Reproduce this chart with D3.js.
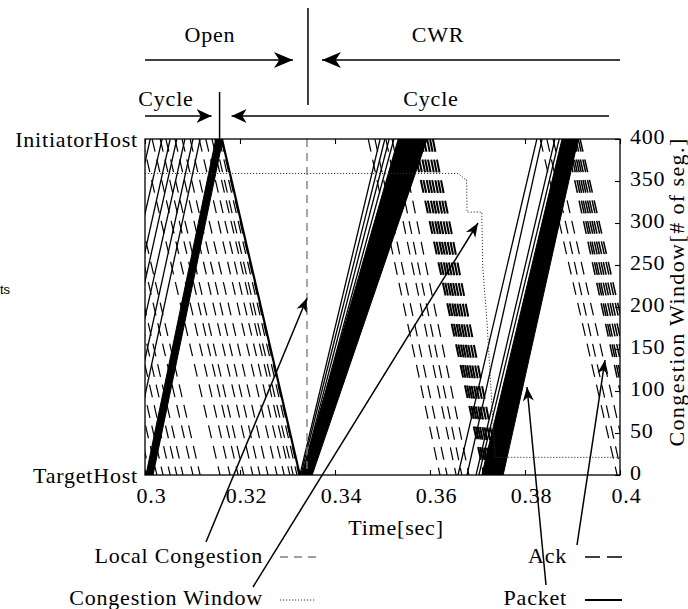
<!DOCTYPE html>
<html><head><meta charset="utf-8">
<script src="https://cdn.jsdelivr.net/npm/d3@7"></script>
<style>
body{margin:0;background:#fff}
svg{display:block}
text{font-family:"Liberation Serif","Times New Roman",serif;font-size:22px;letter-spacing:0.8px;fill:#000}
text.side{font-family:"Liberation Sans",Arial,sans-serif;font-size:13px;letter-spacing:0}
</style></head><body>
<svg id="chart" width="688" height="609"></svg>
<script>
// ---- axes ----
const timeDomain = [0.3, 0.4];
const timeTicks = [0.3, 0.32, 0.34, 0.36, 0.38, 0.4];
const timeTickLabels = ["0.3", "0.32", "0.34", "0.36", "0.38", "0.4"];
const cwndDomain = [0, 400];
const cwndTicks = [0, 50, 100, 150, 200, 250, 300, 350, 400];
const hosts = ["TargetHost", "InitiatorHost"];

// ---- packets leaving TargetHost: [time at TargetHost, time at InitiatorHost] ----
const packetsUp = [
  [0.2853, 0.3011], [0.2874, 0.3036], [0.2895, 0.3053], [0.2909, 0.3067],
  [0.2926, 0.3084], [0.2947, 0.3101], [0.2964, 0.3116],
  [0.3326, 0.3495], [0.3328, 0.3505], [0.3331, 0.3514], [0.3333, 0.3524],
  [0.3659, 0.3825], [0.3678, 0.3836], [0.3697, 0.3863], [0.3703, 0.3872]
];
// back-to-back packet trains: [first at Target, last at Target, first at Initiator, last at Initiator]
const packetTrains = [
  [0.3002, 0.3017, 0.3149, 0.3164],
  [0.3330, 0.3352, 0.3533, 0.3594],
  [0.3709, 0.3754, 0.3878, 0.3912]
];
// packets leaving InitiatorHost: [time at InitiatorHost, time at TargetHost]
const packetsDown = [[0.3162, 0.3326]];

// ---- acks: [time at InitiatorHost, time at TargetHost] ----
const acks = [
  [0.2846, 0.3011], [0.2863, 0.3025], [0.2876, 0.3038], [0.2891, 0.3053],
  [0.2905, 0.3067], [0.2918, 0.3080], [0.2937, 0.3101], [0.2952, 0.3116],
  [0.2994, 0.3158], [0.3015, 0.3179], [0.3032, 0.3196], [0.3044, 0.3208],
  [0.3063, 0.3227], [0.3078, 0.3242], [0.3095, 0.3259], [0.3114, 0.3278],
  [0.3128, 0.3293], [0.3141, 0.3305], [0.3147, 0.3312], [0.3156, 0.3320],
  [0.3160, 0.3324],
  [0.3470, 0.3621], [0.3484, 0.3636], [0.3507, 0.3655], [0.3520, 0.3667],
  [0.3537, 0.3682],
  [0.3832, 0.3994], [0.3846, 0.4004], [0.3859, 0.4021]
];
// dense ack runs
const ackRunA = [
  [0.3562, 0.3714], [0.3568, 0.3718], [0.3575, 0.3722], [0.3581, 0.3726],
  [0.3587, 0.3731], [0.3594, 0.3735], [0.3600, 0.3741], [0.3606, 0.3747]
];
const ackRunB = [
  [0.3886, 0.4038], [0.3891, 0.4042], [0.3895, 0.4046], [0.3899, 0.4053],
  [0.3903, 0.4059], [0.3907, 0.4065], [0.3912, 0.4072], [0.3916, 0.4078]
];

// ---- congestion window [time, segments] ----
const cwnd = [
  [0.3, 359], [0.3659, 359], [0.3674, 352], [0.3677, 352], [0.3678, 313],
  [0.3709, 313], [0.3711, 248], [0.3720, 182], [0.3737, 21], [0.4, 21]
];
const localCongestion = [0.3341];
const cycleBoundary = [0.3157];

// ---- layout ----
const svg = d3.select("#chart");
const plot = {left: 145, right: 620, top: 139, bottom: 475};
const x = d3.scaleLinear().domain(timeDomain).range([plot.left, plot.right]);
const yHost = d3.scaleLinear().domain([0, 1]).range([plot.bottom, plot.top]);
const yCwnd = d3.scaleLinear().domain(cwndDomain).range([plot.bottom, plot.top]);

const defs = svg.append("defs");
defs.append("clipPath").attr("id", "plotClip").append("rect")
  .attr("x", plot.left).attr("y", plot.top)
  .attr("width", plot.right - plot.left).attr("height", plot.bottom - plot.top);

function addArrow(id, len, half) {
  defs.append("marker").attr("id", id).attr("markerUnits", "userSpaceOnUse")
    .attr("viewBox", `${-len - 1} ${-half - 1} ${len + 2} ${2 * half + 2}`)
    .attr("markerWidth", len + 2).attr("markerHeight", 2 * half + 2)
    .attr("refX", 0).attr("refY", 0).attr("orient", "auto")
    .append("path")
    .attr("d", `M0,0 L${-len},${-half} L${-len * 0.72},0 L${-len},${half}Z`)
    .attr("fill", "#000");
}
addArrow("arrBig", 19, 8);
addArrow("arrMid", 15, 7);
addArrow("arrSmall", 14, 5.5);

const marks = svg.append("g").attr("clip-path", "url(#plotClip)");

function downLines(data, cls, width) {
  marks.append("g").attr("class", cls).selectAll("line").data(data).join("line")
    .attr("x1", d => x(d[0])).attr("y1", yHost(1))
    .attr("x2", d => x(d[1])).attr("y2", yHost(0))
    .attr("stroke", "#000").attr("stroke-width", width)
    .attr("stroke-dasharray", "13,8");
}
downLines(acks, "acks", 1.2);
downLines(ackRunA, "ack-run", 2);
downLines(ackRunB, "ack-run", 1.5);

marks.append("g").selectAll("line").data(packetsUp).join("line")
  .attr("x1", d => x(d[0])).attr("y1", yHost(0))
  .attr("x2", d => x(d[1])).attr("y2", yHost(1))
  .attr("stroke", "#000").attr("stroke-width", 1.3);

marks.append("g").selectAll("path").data(packetTrains).join("path")
  .attr("d", d => `M${x(d[0])},${yHost(0)}L${x(d[1])},${yHost(0)}L${x(d[3])},${yHost(1)}L${x(d[2])},${yHost(1)}Z`)
  .attr("fill", "#000").attr("stroke", "#000").attr("stroke-width", 1);

marks.append("g").selectAll("line").data(packetsDown).join("line")
  .attr("x1", d => x(d[0])).attr("y1", yHost(1))
  .attr("x2", d => x(d[1])).attr("y2", yHost(0))
  .attr("stroke", "#000").attr("stroke-width", 2.2);

marks.append("path").datum(cwnd)
  .attr("d", d3.line().x(d => x(d[0])).y(d => yCwnd(d[1])))
  .attr("fill", "none").attr("stroke", "#333").attr("stroke-width", 1)
  .attr("stroke-dasharray", "1.2,1.8");

marks.selectAll("line.lc").data(localCongestion).join("line").attr("class", "lc")
  .attr("x1", d => x(d)).attr("x2", d => x(d))
  .attr("y1", plot.top).attr("y2", plot.bottom)
  .attr("stroke", "#808080").attr("stroke-width", 1.4).attr("stroke-dasharray", "8,6");

// frame
svg.append("rect").attr("x", plot.left).attr("y", plot.top)
  .attr("width", plot.right - plot.left).attr("height", plot.bottom - plot.top)
  .attr("fill", "none").attr("stroke", "#000").attr("stroke-width", 1.3);

function clean(g) {
  g.attr("font-family", null).attr("font-size", null);
  g.select(".domain").remove();
  g.selectAll(".tick line").attr("stroke-width", 1.1);
}
svg.append("g").attr("transform", `translate(0,${plot.bottom})`)
  .call(d3.axisBottom(x).tickValues(timeTicks).tickFormat((d, i) => timeTickLabels[i])
    .tickSizeInner(-5).tickSizeOuter(0).tickPadding(12))
  .call(clean).selectAll("text").attr("dx", 6);
svg.append("g").attr("transform", `translate(0,${plot.top})`)
  .call(d3.axisTop(x).tickValues(timeTicks).tickFormat("").tickSizeInner(-5).tickSizeOuter(0))
  .call(clean);
svg.append("g").attr("transform", `translate(${plot.right},0)`)
  .call(d3.axisRight(yCwnd).tickValues(cwndTicks).tickSizeInner(-5).tickSizeOuter(0).tickPadding(10))
  .call(clean).selectAll("text").attr("dy", "0.2em");
svg.append("g").attr("transform", `translate(${plot.left},0)`)
  .call(d3.axisLeft(yHost).tickValues([0, 1]).tickFormat(i => hosts[i]).tickSize(0).tickPadding(7))
  .call(clean);

svg.append("text").attr("x", 396).attr("y", 535).attr("text-anchor", "middle").text("Time[sec]");
svg.append("text").attr("transform", "translate(684,292) rotate(-90)")
  .attr("text-anchor", "middle").style("letter-spacing", "1.4px").text("Congestion Window[# of seg.]");
svg.append("text").attr("class", "side").attr("x", 0).attr("y", 294).text("ts");

// phase annotations above the plot
const ann = svg.append("g").attr("stroke", "#000").attr("stroke-width", 1.5).attr("fill", "none");
const bx = x(localCongestion[0]) + 1, cx = x(cycleBoundary[0]);
ann.append("line").attr("x1", bx).attr("x2", bx).attr("y1", 8).attr("y2", 105);
ann.append("line").attr("x1", plot.left).attr("x2", bx - 15).attr("y1", 60).attr("y2", 60).attr("marker-end", "url(#arrBig)");
ann.append("line").attr("x1", plot.right).attr("x2", bx + 14).attr("y1", 60).attr("y2", 60).attr("marker-end", "url(#arrBig)");
ann.append("line").attr("x1", cx).attr("x2", cx).attr("y1", 92).attr("y2", plot.top);
ann.append("line").attr("x1", plot.left).attr("x2", cx - 8).attr("y1", 116).attr("y2", 116).attr("marker-end", "url(#arrMid)");
ann.append("line").attr("x1", 609).attr("x2", cx + 12).attr("y1", 116).attr("y2", 116).attr("marker-end", "url(#arrMid)");
svg.append("text").attr("x", 210).attr("y", 42).attr("text-anchor", "middle").text("Open");
svg.append("text").attr("x", 438).attr("y", 42).attr("text-anchor", "middle").text("CWR");
svg.append("text").attr("x", 166).attr("y", 106).attr("text-anchor", "middle").text("Cycle");
svg.append("text").attr("x", 431).attr("y", 106).attr("text-anchor", "middle").text("Cycle");

// legend with pointers into the plot
const legend = [
  {label: "Local Congestion", tx: 263, ty: 563, sx: 280, sy: 557, stroke: "#808080", width: 1.4, dash: "8,6", len: 38, from: [206, 542], to: [307, 298]},
  {label: "Congestion Window", tx: 263, ty: 605, sx: 280, sy: 600, stroke: "#333", width: 1, dash: "1.2,1.8", len: 36, from: [253, 587], to: [478, 223]},
  {label: "Ack", tx: 567, ty: 563, sx: 585, sy: 557, stroke: "#000", width: 1.3, dash: "15,7", len: 37, from: [577, 545], to: [605, 360]},
  {label: "Packet", tx: 567, ty: 605, sx: 585, sy: 600, stroke: "#000", width: 2, dash: null, len: 37, from: [546, 585], to: [527, 387]}
];
const lg = svg.append("g");
legend.forEach(d => {
  lg.append("text").attr("x", d.tx).attr("y", d.ty).attr("text-anchor", "end").text(d.label);
  lg.append("line").attr("x1", d.sx).attr("x2", d.sx + d.len).attr("y1", d.sy).attr("y2", d.sy)
    .attr("stroke", d.stroke).attr("stroke-width", d.width).attr("stroke-dasharray", d.dash);
  lg.append("line").attr("x1", d.from[0]).attr("y1", d.from[1]).attr("x2", d.to[0]).attr("y2", d.to[1])
    .attr("stroke", "#000").attr("stroke-width", 1.5).attr("marker-end", "url(#arrSmall)");
});
</script>
</body></html>
